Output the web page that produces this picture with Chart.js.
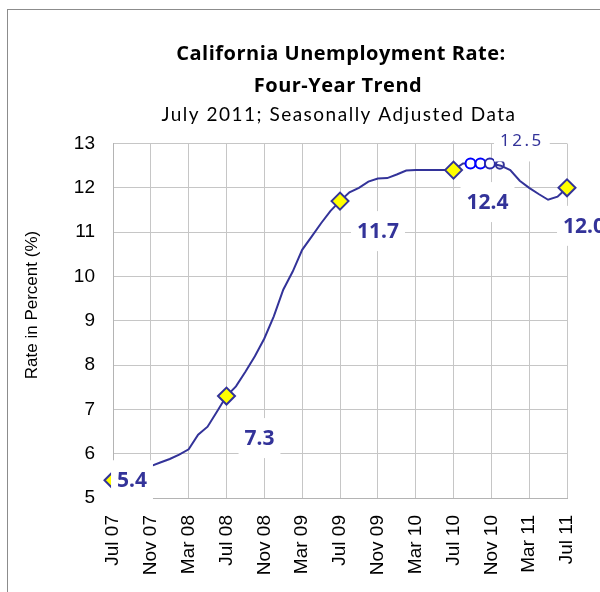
<!DOCTYPE html>
<html><head><meta charset="utf-8">
<script src="https://cdn.jsdelivr.net/npm/chart.js@4/dist/chart.umd.min.js"></script>
<style>html,body{margin:0;padding:0;background:#fff;overflow:hidden}#wrap{width:600px;height:592px;position:relative}</style>
</head><body><div id="wrap"><canvas id="c" width="600" height="592"></canvas></div>
<script>
// ---- data ----
const tickLabels = ["Jul 07","Nov 07","Mar 08","Jul 08","Nov 08","Mar 09","Jul 09","Nov 09","Mar 10","Jul 10","Nov 10","Mar 11","Jul 11"];
// monthly rates, Jul 2007 .. Jul 2011 (49 months)
const rates = [
  5.4, 5.48, 5.56, 5.64, 5.72, 5.8, 5.88, 5.98,
  6.1, 6.43, 6.61, 6.95, 7.3, 7.52, 7.85, 8.2,
  8.6, 9.1, 9.7, 10.11, 10.6, 10.9, 11.2, 11.48,
  11.7, 11.9, 12.0, 12.14, 12.21, 12.22, 12.3, 12.39,
  12.4, 12.4, 12.4, 12.4, 12.4, 12.55, 12.55, 12.55,
  12.55, 12.5, 12.4, 12.16, 12.0, 11.86, 11.73, 11.8,
  12.0
];
const keyMonths = [0, 12, 24, 36, 48];
const keyLabels = ["5.4", "7.3", "11.7", "12.4", "12.0"];
const peakMonths = [37.8, 38.85, 39.85, 40.9];
const peakRates = [12.55, 12.55, 12.55, 12.52];
const peakLabel = "12.5";
const yTitle = "Rate in Percent (%)";
const titleLines = ["California Unemployment Rate:", "Four-Year Trend"];
const subTitle = "July 2011; Seasonally Adjusted Data";

const NAVY = '#333399';

// label placement offsets (pixels from the point)
const keyLabelOffsets = [[19, 0], [33, 42], [38, 30], [34, 32], [17, 38]];
const peakLabelRef = 2, peakLabelOffset = [32, -22];

const decorPlugin = {
  id: 'decor',
  beforeDraw(chart) {
    const ctx = chart.ctx;
    ctx.save();
    ctx.fillStyle = '#fff';
    ctx.fillRect(0, 0, chart.width, chart.height);
    ctx.strokeStyle = '#8c8c8c';
    ctx.lineWidth = 1;
    ctx.strokeRect(7.5, 9.5, 800, 800);
    ctx.restore();
  },
  afterDatasetsDraw(chart) {
    const ctx = chart.ctx;
    const xs = chart.scales.x, ys = chart.scales.y;
    ctx.save();
    ctx.textAlign = 'center';
    ctx.textBaseline = 'middle';
    const box = (cx, cy, w) => {
      ctx.fillStyle = '#fff';
      ctx.fillRect(cx - w / 2 - 6, cy - 20, w + 12, 40);
    };
    ctx.font = 'bold 21px "Noto Sans"';
    keyMonths.forEach((m, i) => {
      const px = xs.getPixelForValue(m), py = ys.getPixelForValue(rates[m]);
      const cx = px + keyLabelOffsets[i][0], cy = py + keyLabelOffsets[i][1];
      const w = ctx.measureText(keyLabels[i]).width;
      box(cx, cy, w);
      ctx.fillStyle = NAVY;
      ctx.fillText(keyLabels[i], cx, cy + 1);
    });
    // peak label
    ctx.font = '17px "Noto Sans"';
    ctx.letterSpacing = '2.5px';
    const ppx = xs.getPixelForValue(peakMonths[peakLabelRef]), ppy = ys.getPixelForValue(peakRates[peakLabelRef]);
    const pcx = ppx + peakLabelOffset[0], pcy = ppy + peakLabelOffset[1];
    const pw = ctx.measureText(peakLabel).width;
    box(pcx, pcy, pw);
    ctx.fillStyle = NAVY;
    ctx.fillText(peakLabel, pcx, pcy);
    ctx.restore();
  },
  afterDraw(chart) {
    const ctx = chart.ctx;
    ctx.save();
    ctx.fillStyle = '#000';
    ctx.textAlign = 'center';
    ctx.textBaseline = 'alphabetic';
    ctx.font = 'bold 20px "Open Sans"';
    ctx.letterSpacing = '0.5px';
    ctx.fillText(titleLines[0], 341, 60);
    ctx.fillText(titleLines[1], 338, 92);
    ctx.font = '19px Lato';
    ctx.letterSpacing = '1.5px';
    ctx.fillText(subTitle, 339, 121);
    ctx.letterSpacing = '0px';
    // y title
    ctx.translate(32, 305);
    ctx.rotate(-Math.PI / 2);
    ctx.textBaseline = 'middle';
    ctx.font = '17px "Liberation Sans"';
    ctx.fillText(yTitle, 0, 0);
    ctx.restore();
  }
};

new Chart(document.getElementById('c'), {
  type: 'line',
  data: {
    datasets: [
      {
        data: keyMonths.map(m => ({x: m, y: rates[m]})),
        showLine: false,
        pointStyle: 'rectRot',
        pointRadius: 8.5,
        pointBackgroundColor: '#FFFF00',
        pointBorderColor: NAVY,
        pointBorderWidth: 2,
        clip: false
      },
      {
        data: peakMonths.map((m, i) => ({x: m, y: peakRates[i]})),
        showLine: false,
        pointStyle: 'circle',
        pointRadius: [5, 5, 5, 4],
        pointBackgroundColor: ['#fff', '#fff', '#fff', 'rgba(255,255,255,0)'],
        pointBorderColor: ['#0000FF', '#0000FF', '#2a2aa8', NAVY],
        pointBorderWidth: 2,
        clip: false
      },
      {
        data: rates.map((v, i) => ({x: i, y: v})),
        borderColor: NAVY,
        borderWidth: 2,
        pointRadius: 0,
        tension: 0,
        fill: false
      }
    ]
  },
  options: {
    responsive: false,
    animation: false,
    devicePixelRatio: 1,
    layout: {padding: {top: 143.5, right: 33, left: 0, bottom: 0}},
    plugins: {legend: {display: false}, tooltip: {enabled: false}, title: {display: false}},
    scales: {
      x: {
        type: 'linear', min: 0, max: 48,
        afterFit: s => { s.height = 94; s.paddingLeft = 0; s.paddingRight = 0; },
        grid: {color: '#c6c6c6', drawTicks: false},
        border: {color: '#b4b4b4'},
        ticks: {
          stepSize: 4, autoSkip: false, maxRotation: 90, minRotation: 90,
          padding: 17, color: '#000',
          font: {family: '"Liberation Sans"', size: 19},
          callback: v => tickLabels[v / 4]
        }
      },
      y: {
        min: 5, max: 13,
        afterFit: s => { s.width = 113; s.paddingTop = 0; s.paddingBottom = 0; },
        grid: {color: '#c6c6c6', drawTicks: false},
        border: {color: '#b4b4b4'},
        ticks: {
          stepSize: 1, padding: 18, color: '#000',
          font: {family: '"Liberation Sans"', size: 19}
        }
      }
    }
  },
  plugins: [decorPlugin]
});
</script></body></html>
